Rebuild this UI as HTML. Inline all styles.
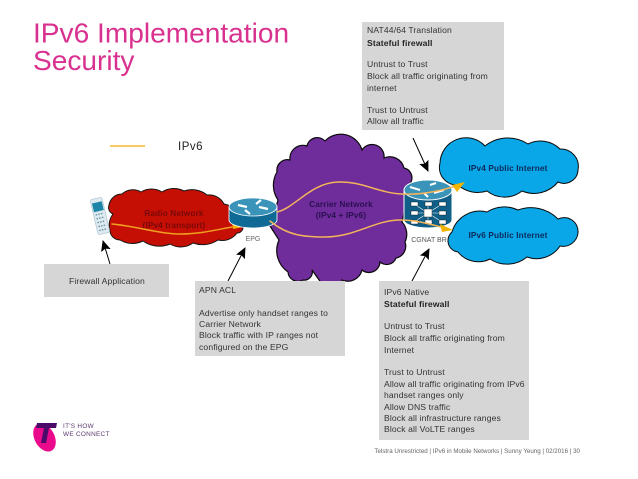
<!DOCTYPE html>
<html><head><meta charset="utf-8"><style>
html,body{margin:0;padding:0;background:#fff}
svg{display:block}
text{font-family:"Liberation Sans",sans-serif}
.t{font-size:8.6px;fill:#333;letter-spacing:.12px}
.b{font-weight:bold;fill:#222}
.c{font-size:8.2px;font-weight:bold;text-anchor:middle;letter-spacing:.15px}
</style></head><body>
<svg width="638" height="479" viewBox="0 0 638 479" xmlns="http://www.w3.org/2000/svg">
<defs>
<marker id="k" markerWidth="12" markerHeight="12" refX="10" refY="5" orient="auto" markerUnits="userSpaceOnUse"><path d="M0 0L11 5L0 10L2 5Z" fill="#000"/></marker>
</defs>
<rect width="638" height="479" fill="#fff"/>
<text x="33" y="42.5" font-size="28.1" fill="#d9318f">IPv6 Implementation</text>
<text x="33" y="70" font-size="28.1" fill="#d9318f">Security</text>

<rect x="362" y="22" width="142" height="108" fill="#d6d6d6"/>
<g class="t">
<text x="367" y="33">NAT44/64 Translation</text>
<text x="367" y="46" class="b">Stateful firewall</text>
<text x="367" y="67">Untrust to Trust</text>
<text x="367" y="79">Block all traffic originating from</text>
<text x="367" y="91">internet</text>
<text x="367" y="113">Trust to Untrust</text>
<text x="367" y="124">Allow all traffic</text>
</g>

<line x1="110" y1="146" x2="145" y2="146" stroke="#f5b92e" stroke-width="1.5"/>
<text x="178" y="150" font-size="11.5" fill="#222" letter-spacing=".5">IPv6</text>

<!-- purple cloud -->
<path d="M290 160A13 13 0 0 1 307 146A10.5 10.5 0 0 1 325 141A22 22 0 0 1 362 150A12 12 0 0 1 384 158A14.6 14.6 0 0 1 404 168A10 10 0 0 1 411 182L402 222A18 18 0 0 1 405 242A12 12 0 0 1 396 258A10 10 0 0 1 380 262A11 11 0 0 1 362 270A14.6 14.6 0 0 1 342 280A11 11 0 0 1 322 284L312 270A8 8 0 0 1 303 280A10 10 0 0 1 288 272A26 26 0 0 1 279 240L270 226L278 200A26 26 0 0 1 277 172A10.6 10.6 0 0 1 290 160Z" fill="#6f2c9b" stroke="#0a0a0a" stroke-width="1.2"/>
<!-- red cloud -->
<path d="M109 205A13 13 0 0 1 122 194A16 16 0 0 1 141 192A20 20 0 0 1 162 192A22 22 0 0 1 184 191A24 24 0 0 1 207 195A17 17 0 0 1 224 204A23 23 0 0 1 243 226A6 6 0 0 1 237 233A18 18 0 0 1 218 240A28 28 0 0 1 193 243A21 21 0 0 1 170 244A28 28 0 0 1 143 241A24 24 0 0 1 120 240A10 10 0 0 1 110 231A19 19 0 0 1 113 214A7 7 0 0 1 109 205Z" fill="#c50f05" stroke="#151515" stroke-width="1"/>
<!-- blue clouds -->
<path d="M440 163A26 26 0 0 1 485 146A36.5 36.5 0 0 1 528 144A28 28 0 0 1 560 149A17.5 17.5 0 0 1 578 170A14 14 0 0 1 558 182A31 31 0 0 1 522 191A28 28 0 0 1 487 191A30 30 0 0 1 458 185A17.5 17.5 0 0 1 440 163Z" fill="#09a6e8" stroke="#0a0a0a" stroke-width="1"/>
<path d="M452 232A29 29 0 0 1 487 212A32 32 0 0 1 518 210A38 38 0 0 1 558 219A14 14 0 0 1 578 233A15 15 0 0 1 560 246A28 28 0 0 1 527 257A31 31 0 0 1 490 259A26 26 0 0 1 458 252A11.4 11.4 0 0 1 452 232Z" fill="#09a6e8" stroke="#0a0a0a" stroke-width="1"/>

<g class="c"><text x="174" y="216" fill="#7a0808">Radio Network</text><text x="174" y="228" fill="#7a0808">(IPv4 transport)</text></g>
<g class="c" fill="#2a1050"><text x="341" y="207">Carrier Network</text><text x="341" y="218">(IPv4 + IPv6)</text></g>
<g class="c" fill="#0c2a5a"><text x="508" y="171">IPv4 Public Internet</text><text x="508" y="238">IPv6 Public Internet</text></g>

<!-- phone -->
<g transform="rotate(-13 100 216)">
<rect x="94" y="198" width="12" height="36" rx="2" fill="#dfeaf0" stroke="#a9c8d2" stroke-width=".7"/>
<rect x="95" y="202" width="10" height="9" fill="#1d86a8"/>
<path d="M96 214h8M96 218h8M96 222h8M96 226h8M96 230h8" stroke="#5d8f9f" stroke-width="1.3" stroke-dasharray="1.5 1.2"/>
</g>

<!-- orange connector (radio) -->
<path d="M112 224C135 226 160 234 180 234C200 234 215 230 232 227" fill="none" stroke="#f0a020" stroke-width="1.5" stroke-linecap="round"/>
<path d="M232 222L243 227L233 229Z" fill="#f5b400"/>

<!-- EPG router -->
<path d="M229 207V220A24 8 0 0 0 277 220V207Z" fill="#0f6b96" stroke="#fff" stroke-width=".8"/>
<ellipse cx="253" cy="207" rx="24" ry="9" fill="#3a93b8" stroke="#fff" stroke-width=".8"/>
<g stroke="#fff" stroke-width="2.2"><path d="M238 205L247 207M259 207L268 209M256 204L261 200M245 210L250 214"/></g>
<text x="253" y="241" font-size="7" fill="#666" text-anchor="middle">EPG</text>

<!-- CGNAT router -->
<path d="M404 190V220A24 8 0 0 0 452 220V190Z" fill="#0f5f88" stroke="#fff" stroke-width="1"/>
<ellipse cx="428" cy="190" rx="24" ry="10" fill="#3a93b8" stroke="#fff" stroke-width=".9"/>
<g stroke="#fff" stroke-width="2.2"><path d="M410 187L420 190M434 193L444 190M428 197L424 193M430 185L436 183"/></g>
<g stroke="#fff" stroke-width=".6"><path d="M428 213L414 204M428 213L442 204M428 213L414 213M428 213L442 213M428 213L414 222M428 213L442 222M428 213V204M428 213V222"/></g>
<g fill="#fff" stroke="#111" stroke-width=".4">
<rect x="411" y="202" width="7" height="4"/><rect x="425" y="202" width="7" height="4"/><rect x="439" y="202" width="7" height="4"/>
<rect x="411" y="211" width="7" height="4"/><rect x="439" y="211" width="7" height="4"/>
<rect x="411" y="220" width="7" height="4"/><rect x="425" y="220" width="7" height="4"/><rect x="439" y="220" width="7" height="4"/>
<rect x="424" y="209" width="8" height="8"/></g>
<text x="429" y="242" font-size="7" fill="#555" text-anchor="middle">CGNAT BR</text>

<!-- orange connectors -->
<g fill="none" stroke-linecap="round">
<path d="M277 212C295 208 310 183 338 182C362 181 378 193 402 194C420 195 440 191 456 186" stroke="#f2b45a" stroke-width="1.5"/>
<path d="M270 221C288 236 305 237 325 237C355 237 375 220 400 220C418 220 432 225 445 228" stroke="#f2b45a" stroke-width="1.5"/>
</g>
<path d="M465 182L452 185L457 192Z" fill="#f0b400"/>
<path d="M453 230L440 224L442 232Z" fill="#f0b400"/>

<!-- arrows -->
<g stroke="#000" stroke-width="1" fill="none" marker-end="url(#k)">
<line x1="110" y1="264" x2="103" y2="241"/>
<line x1="228" y1="281" x2="245" y2="248"/>
<line x1="413" y1="138" x2="428" y2="171"/>
<line x1="412" y1="281" x2="429" y2="249"/>
</g>

<rect x="44" y="264" width="125" height="33" fill="#d6d6d6"/>
<text x="69" y="284" class="t">Firewall Application</text>

<rect x="195" y="281" width="150" height="75" fill="#d6d6d6"/>
<g class="t">
<text x="199" y="293">APN ACL</text>
<text x="199" y="316">Advertise only handset ranges to</text>
<text x="199" y="327">Carrier Network</text>
<text x="199" y="338">Block traffic with IP ranges not</text>
<text x="199" y="350">configured on the EPG</text>
</g>

<rect x="379" y="281" width="150" height="159" fill="#d6d6d6"/>
<g class="t">
<text x="384" y="295">IPv6 Native</text>
<text x="384" y="307" class="b">Stateful firewall</text>
<text x="384" y="329">Untrust to Trust</text>
<text x="384" y="341">Block all traffic originating from</text>
<text x="384" y="353">Internet</text>
<text x="384" y="375">Trust to Untrust</text>
<text x="384" y="387">Allow all traffic originating from IPv6</text>
<text x="384" y="398">handset ranges only</text>
<text x="384" y="410">Allow DNS traffic</text>
<text x="384" y="421">Block all infrastructure ranges</text>
<text x="384" y="432">Block all VoLTE ranges</text>
</g>

<!-- logo -->
<ellipse cx="44.5" cy="437.5" rx="10" ry="15" transform="rotate(-28 44.5 437.5)" fill="#ea0a8c"/>
<path d="M37 423H57L56 428H49L46 443H41L44 428H36Z" fill="#4b0a68"/>
<g font-size="6.4" fill="#5b3a70" letter-spacing=".3"><text x="63" y="428">IT'S HOW</text><text x="63" y="436">WE CONNECT</text></g>

<text x="580" y="453" font-size="6.2" fill="#666" text-anchor="end">Telstra Unrestricted | IPv6 in Mobile Networks | Sunny Yeung | 02/2016 | 30</text>
</svg>
</body></html>
